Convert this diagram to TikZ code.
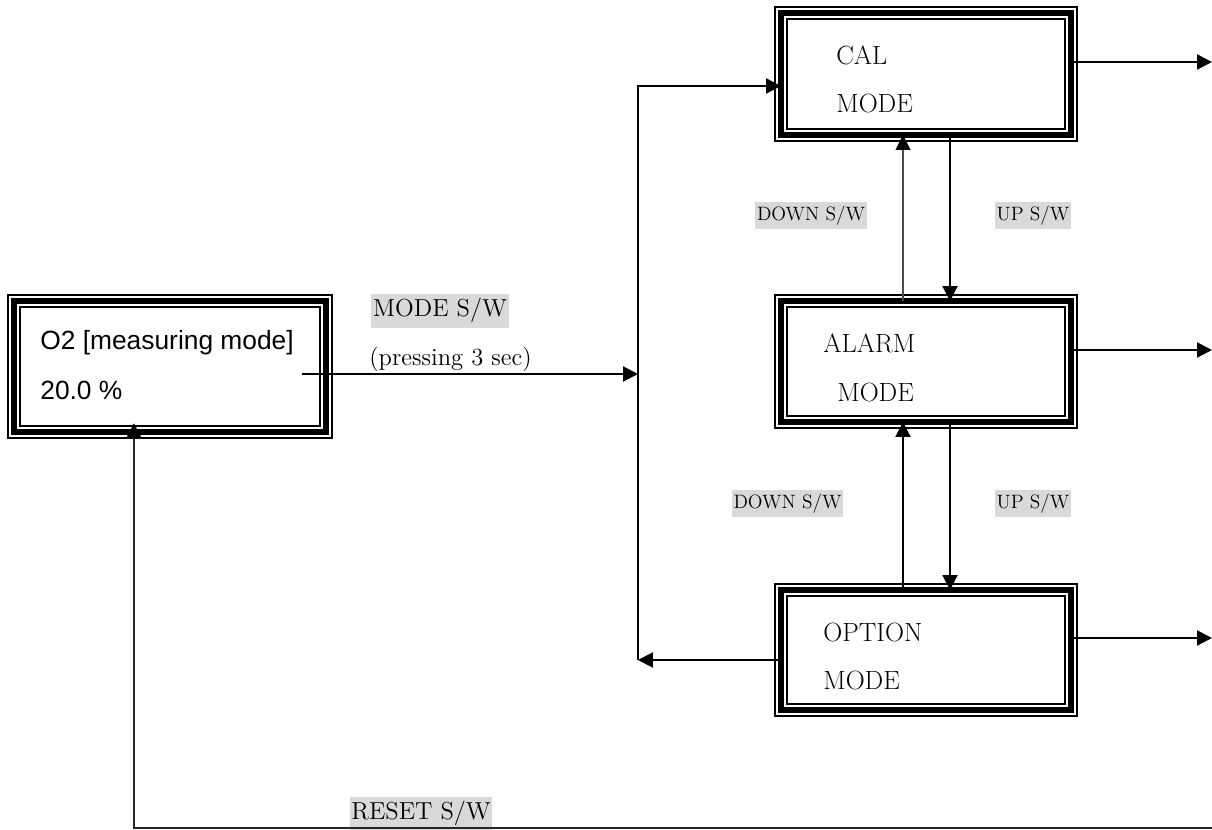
\documentclass[tikz,border=0pt]{standalone}
\usepackage{fontspec}
\newfontfamily\arialfont{Liberation Sans}
\usetikzlibrary{arrows.meta,calc}
\tikzset{
  modebox/.style={rectangle, draw, line width=3.2pt, inner sep=0pt, outer sep=0pt,
    preaction={draw, line width=8pt}, preaction={draw=white, line width=5.6pt}},
  boxtext/.style={anchor=base west, inner sep=0pt, font=\fontsize{15}{18}\selectfont},
  swlabel/.style={fill=black!15, inner xsep=1pt, inner ysep=2.7pt, text height=10.3pt,
    text depth=3.5pt, font=\fontsize{14}{16}\selectfont},
  swsmall/.style={fill=black!15, inner xsep=1pt, inner ysep=2.2pt, text height=8pt,
    text depth=2.8pt, font=\fontsize{11}{13}\selectfont},
  conn/.style={line width=1.2pt, -{Triangle[length=8.5pt,width=8.5pt,color=black]}},
}
\begin{document}
\begin{tikzpicture}[x=0.02cm, y=-0.02cm]
    \useasboundingbox (0,0) rectangle (1212,830);
    % Riquadri
    \node[modebox, minimum width=6.24cm, minimum height=2.62cm] (o2) at (170,366.5) {};
    \node[modebox, minimum width=5.8cm, minimum height=2.44cm] (cal) at (926,74) {};
    \node[modebox, minimum width=5.8cm, minimum height=2.42cm] (alarm) at (926,361.5) {};
    \node[modebox, minimum width=5.8cm, minimum height=2.4cm] (option) at (926,650) {};
    % Testi
    \node[boxtext, font=\arialfont\fontsize{15}{18}\selectfont] (o2 name) at (40,350) {O2 [measuring mode]};
    \node[boxtext, font=\arialfont\fontsize{15}{18}\selectfont] (o2 value) at (40,400) {20.0 \%};
    \node[boxtext] (cal l1) at (836,65) {CAL};
    \node[boxtext] (cal l2) at (836,113) {MODE};
    \node[boxtext] (alarm l1) at (823,353) {ALARM};
    \node[boxtext] (alarm l2) at (837,402) {MODE};
    \node[boxtext] (option l1) at (823,641) {OPTION};
    \node[boxtext] (option l2) at (823,689) {MODE};
    % Etichette
    \node[swlabel] (mode sw) at (440,311) {MODE S/W};
    \node[anchor=base west, inner sep=0pt, font=\fontsize{14}{16}\selectfont] (press) at (369,366) {(pressing 3 sec)};
    \node[swsmall] (down1) at (811,215.5) {DOWN S/W};
    \node[swsmall] (up1) at (1033,215.5) {UP S/W};
    \node[swsmall] (down2) at (787.5,503.5) {DOWN S/W};
    \node[swsmall] (up2) at (1033,503.5) {UP S/W};
    \node[swlabel] (reset sw) at (421,813.5) {RESET S/W};
    % Punti
    \coordinate (mode start) at (302,374);
    \coordinate (bus in) at (638,374);
    \coordinate (bus top) at (638,86);
    \coordinate (bus bottom) at (638,660);
    \coordinate (reset corner) at (134,828);
    \coordinate (reset end) at (1212,828);
    \coordinate (cal out) at (1212,62);
    \coordinate (alarm out) at (1212,350);
    \coordinate (option out) at (1212,638);
    % Frecce
    \draw[conn] (mode start) -- (bus in);
    \draw[conn] (bus bottom) -- (bus top) -- (bus top -| cal.west);
    \draw[conn] (option.west |- bus bottom) -- (bus bottom);
    \draw[conn] (cal.east |- cal out) -- (cal out);
    \draw[conn] (alarm.east |- alarm out) -- (alarm out);
    \draw[conn] (option.east |- option out) -- (option out);
    \draw[conn, line width=0.6pt, draw=black!70] ($(alarm.north)+(-23,0)$) -- ($(cal.south)+(-23,0)$);
    \draw[conn] ($(cal.south)+(24,0)$) -- ($(alarm.north)+(24,0)$);
    \draw[conn] ($(option.north)+(-23,0)$) -- ($(alarm.south)+(-23,0)$);
    \draw[conn] ($(alarm.south)+(24,0)$) -- ($(option.north)+(24,0)$);
    \draw[conn, draw=black!85, shorten >=-5pt] (reset end) -- (reset corner) -- (o2.south -| reset corner);
\end{tikzpicture}
\end{document}
